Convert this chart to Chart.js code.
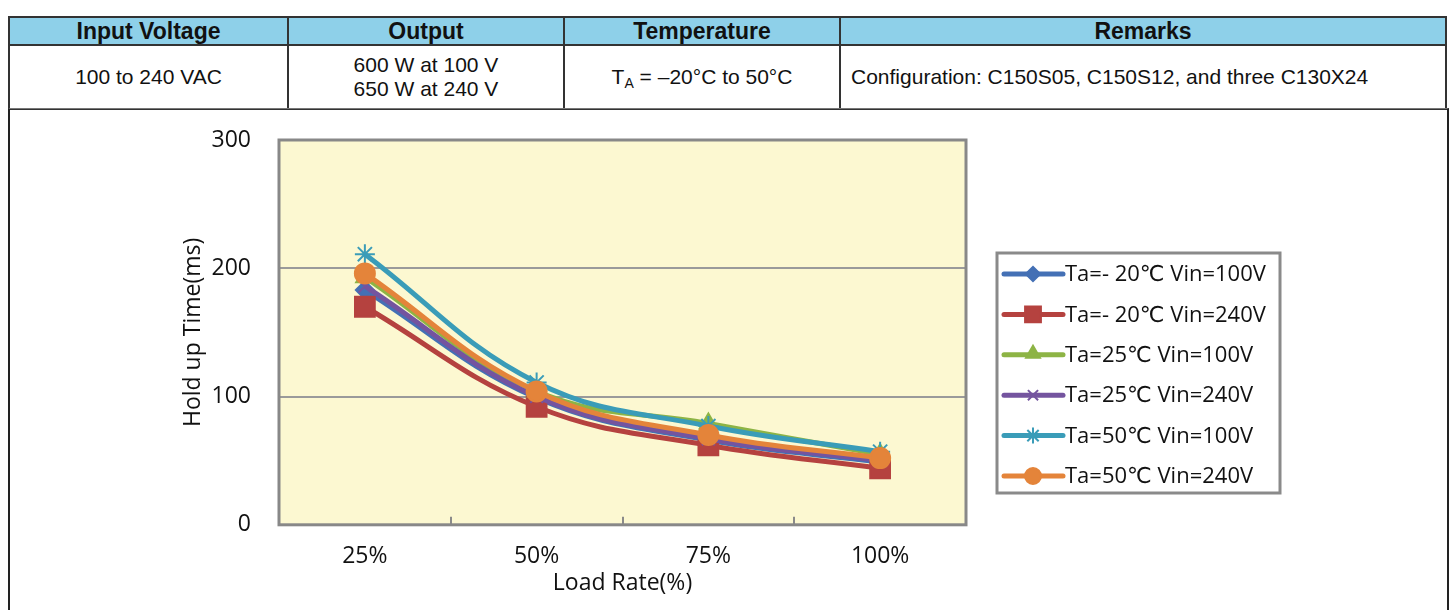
<!DOCTYPE html>
<html>
<head>
<meta charset="utf-8">
<script src="https://cdn.jsdelivr.net/npm/chart.js@4/dist/chart.umd.min.js"></script>
<style>
  body { margin: 0; background: #fff; width: 1450px; height: 610px; overflow: hidden; position: relative; font-family: "Liberation Sans", Arial, sans-serif; }
  table.spec { position: absolute; left: 8px; top: 16px; width: 1439px; border-collapse: collapse; border: 2px solid #222; }
  table.spec th { background: #8ed0e9; height: 26px; font-size: 23px; font-weight: bold; color: #111; border: 2px solid #333; padding: 0; line-height: 24px; }
  table.spec td { height: 62px; font-size: 21px; color: #111; border: 2px solid #333; text-align: center; padding: 0; line-height: 24px; }
  table.spec td.rem { text-align: left; padding-left: 10px; }
  sub { font-size: 14px; vertical-align: -4px; line-height: 0; }
  .box { position: absolute; left: 8px; top: 108px; width: 1437px; height: 510px; border-left: 2px solid #222; border-right: 2px solid #222; border-top: 1px solid #777; }
  #holdChart { position: absolute; left: 9px; top: 109px; }
</style>
</head>
<body>
<table class="spec">
  <tr>
    <th style="width:277px">Input Voltage</th>
    <th style="width:274px">Output</th>
    <th style="width:274px">Temperature</th>
    <th>Remarks</th>
  </tr>
  <tr>
    <td>100 to 240 VAC</td>
    <td>600 W at 100 V<br>650 W at 240 V</td>
    <td>T<sub>A</sub> = &ndash;20&deg;C to 50&deg;C</td>
    <td class="rem">Configuration: C150S05, C150S12, and three C130X24</td>
  </tr>
</table>
<div class="box"></div>
<canvas id="holdChart" width="1437" height="501"></canvas>
<script>
// Load rate categories (x axis)
const loadRates = ['25%', '50%', '75%', '100%'];

// Hold up time (ms)
const ta_m20_vin100 = [183, 99, 66, 49];
const ta_m20_vin240 = [170, 92, 62, 44];
const ta_25_vin100 = [193, 104, 79, 55];
const ta_25_vin240 = [186, 100, 67, 50];
const ta_50_vin100 = [211, 111, 77, 57];
const ta_50_vin240 = [196, 104, 70, 52];

const seriesNames = [
    'Ta=- 20\u2103 Vin=100V',
    'Ta=- 20\u2103 Vin=240V',
    'Ta=25\u2103 Vin=100V',
    'Ta=25\u2103 Vin=240V',
    'Ta=50\u2103 Vin=100V',
    'Ta=50\u2103 Vin=240V'
];

// y axis ticks
const yTicks = [0, 100, 200, 300];

const seriesData = [ta_m20_vin100, ta_m20_vin240, ta_25_vin100, ta_25_vin240, ta_50_vin100, ta_50_vin240];
const colors = ['#4470b5', '#b5423f', '#8db445', '#74549f', '#3a9cb8', '#e4843a'];
const markers = ['rectRot', 'rect', 'triangle', 'crossRot', 'star', 'circle'];
const markerSize = [9, 14, 10, 9, 10, 10];

const chartFont = '"Open Sans", "DejaVu Sans", sans-serif';

// yellow plot background + grey frame
const plotFrame = {
    id: 'plotFrame',
    beforeDraw(chart) {
        const { ctx, chartArea: a } = chart;
        ctx.save();
        ctx.fillStyle = '#fcf8d1';
        ctx.fillRect(a.left, a.top, a.right - a.left, a.bottom - a.top);
        ctx.restore();
    },
    beforeDatasetsDraw(chart) {
        const { ctx, chartArea: a } = chart;
        const xs = chart.scales.x;
        ctx.save();
        // little tick marks between categories, pointing up
        ctx.strokeStyle = '#8a8a8a';
        ctx.lineWidth = 2;
        for (let i = 0; i < loadRates.length - 1; i++) {
            const x = Math.round((xs.getPixelForValue(i) + xs.getPixelForValue(i + 1)) / 2);
            ctx.beginPath();
            ctx.moveTo(x, a.bottom);
            ctx.lineTo(x, a.bottom - 8);
            ctx.stroke();
        }
        ctx.strokeStyle = '#888';
        ctx.lineWidth = 3;
        ctx.strokeRect(a.left, a.top, a.right - a.left, a.bottom - a.top);
        ctx.restore();
    }
};

// legend box with line + marker samples
const boxLegend = {
    id: 'boxLegend',
    afterDraw(chart, args, opts) {
        const { ctx, chartArea: a } = chart;
        const left = a.right + opts.dx, top = a.top + opts.dy;
        ctx.save();
        ctx.fillStyle = '#fff';
        ctx.fillRect(left, top, opts.w, opts.h);
        ctx.strokeStyle = '#8a8a8a';
        ctx.lineWidth = 3;
        ctx.strokeRect(left, top, opts.w, opts.h);
        chart.data.datasets.forEach((ds, i) => {
            const y = top + 21 + i * 40.4;
            ctx.strokeStyle = ds.borderColor;
            ctx.lineWidth = 5;
            ctx.lineCap = 'round';
            ctx.beginPath();
            ctx.moveTo(left + 7, y);
            ctx.lineTo(left + 66, y);
            ctx.stroke();
            ctx.fillStyle = ds.borderColor;
            ctx.strokeStyle = ds.borderColor;
            ctx.lineWidth = 2;
            ctx.lineCap = 'butt';
            Chart.helpers.drawPoint(ctx, {
                pointStyle: ds.pointStyle, rotation: 0, borderWidth: 2, radius: ds.pointRadius * 0.8
            }, left + 36, y + (ds.pointStyle === 'triangle' ? -1 : 0));
            ctx.fillStyle = '#111';
            ctx.font = '22px ' + chartFont;
            ctx.textBaseline = 'middle';
            ctx.fillText(ds.label, left + 68, y + 1);
        });
        ctx.restore();
    }
};

const ctx = document.getElementById('holdChart').getContext('2d');

new Chart(ctx, {
    type: 'line',
    data: {
        labels: loadRates,
        datasets: seriesData.map((vals, i) => ({
            label: seriesNames[i],
            data: vals,
            borderColor: colors[i],
            backgroundColor: colors[i],
            pointBorderColor: colors[i],
            borderWidth: 5,
            pointStyle: markers[i],
            pointRadius: markerSize[i],
            pointBorderWidth: 2,
            tension: 0.4,
            order: seriesData.length - 1 - i
        }))
    },
    options: {
        responsive: false,
        animation: false,
        events: [],
        layout: { padding: { left: 171, top: 31, right: 480, bottom: 13 } },
        scales: {
            x: {
                type: 'category',
                offset: true,
                grid: { display: false },
                border: { display: false },
                ticks: { color: '#111', padding: 10, font: { family: chartFont, size: 23, lineHeight: 1.2 } },
                title: { display: true, text: 'Load Rate(%)', color: '#111', padding: { top: -11, bottom: 0 }, font: { family: chartFont, size: 23, lineHeight: 1.2 } }
            },
            y: {
                min: 0,
                max: 300,
                afterBuildTicks(scale) { scale.ticks = yTicks.map(v => ({ value: v })); },
                afterFit(scale) { scale.width = 99; },
                grid: { color: '#9a9a9a', lineWidth: 2, drawTicks: true, tickLength: 28, tickColor: 'rgba(0,0,0,0)' },
                border: { display: false },
                ticks: { color: '#111', padding: 0, font: { family: chartFont, size: 23, lineHeight: 1.2 } },
                title: { display: true, text: 'Hold up Time(ms)', color: '#111', padding: 0, font: { family: chartFont, size: 23, lineHeight: 1.2 } }
            }
        },
        plugins: {
            legend: { display: false },
            tooltip: { enabled: false },
            boxLegend: { dx: 31, dy: 113, w: 283, h: 240 }
        }
    },
    plugins: [plotFrame, boxLegend]
});
</script>
</body>
</html>
